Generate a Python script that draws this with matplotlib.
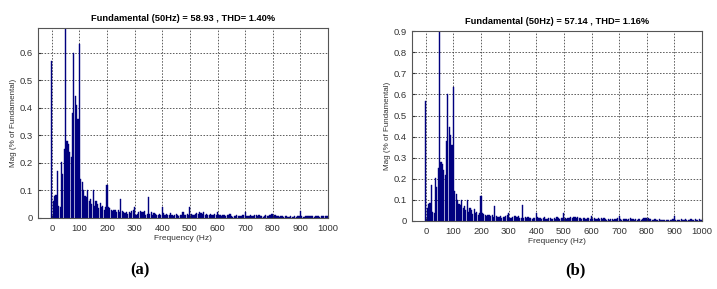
import numpy as np
import matplotlib
matplotlib.use('Agg')
import matplotlib.pyplot as plt

plt.rcParams['font.family'] = ['Liberation Sans Narrow', 'Liberation Sans', 'DejaVu Sans']

# harmonic spectrum, 5 Hz bins from 0 to 1000 Hz (% of fundamental)
freq = np.arange(0, 1001, 5)
mag = [
    0.57, 0.06, 0.08, 0.085, 0.17, 0.045, 0.04, 0.205, 0.16, 0.25,
    100.0, 0.28, 0.27, 0.24, 0.22, 0.38, 0.60, 0.445, 0.41, 0.36,
    0.633, 0.14, 0.13, 0.10, 0.08, 0.075, 0.10, 0.06, 0.07, 0.05,
    0.10, 0.045, 0.06, 0.05, 0.035, 0.055, 0.04, 0.045, 0.03, 0.04,
    0.12, 0.04, 0.035, 0.03, 0.025, 0.03, 0.028, 0.022, 0.03, 0.02,
    0.07, 0.025, 0.02, 0.018, 0.022, 0.015, 0.02, 0.018, 0.025, 0.03,
    0.04, 0.012, 0.015, 0.02, 0.025, 0.022, 0.02, 0.025, 0.012, 0.015,
    0.077, 0.015, 0.02, 0.012, 0.018, 0.015, 0.012, 0.01, 0.015, 0.012,
    0.04, 0.018, 0.012, 0.015, 0.01, 0.012, 0.018, 0.01, 0.008, 0.012,
    0.015, 0.01, 0.008, 0.012, 0.01, 0.02, 0.012, 0.01, 0.015, 0.012,
    0.04, 0.015, 0.01, 0.012, 0.015, 0.018, 0.015, 0.02, 0.018, 0.015,
    0.02, 0.012, 0.015, 0.01, 0.012, 0.015, 0.01, 0.012, 0.015, 0.01,
    0.022, 0.01, 0.012, 0.008, 0.01, 0.012, 0.008, 0.012, 0.01, 0.015,
    0.008, 0.005, 0.008, 0.006, 0.01, 0.008, 0.006, 0.008, 0.01, 0.012,
    0.022, 0.008, 0.006, 0.008, 0.01, 0.008, 0.006, 0.01, 0.012, 0.008,
    0.01, 0.006, 0.008, 0.005, 0.008, 0.01, 0.006, 0.008, 0.012, 0.015,
    0.014, 0.012, 0.01, 0.008, 0.006, 0.005, 0.008, 0.006, 0.005, 0.008,
    0.006, 0.005, 0.004, 0.006, 0.005, 0.004, 0.006, 0.005, 0.006, 0.008,
    0.025, 0.006, 0.005, 0.004, 0.006, 0.008, 0.007, 0.006, 0.008, 0.006,
    0.005, 0.007, 0.008, 0.006, 0.005, 0.008, 0.007, 0.006, 0.008, 0.007,
    0.006,
]

titles = ['Fundamental (50Hz) = 58.93 , THD= 1.40%',
          'Fundamental (50Hz) = 57.14 , THD= 1.16%']
ymax = [0.69, 0.9]
yticks = [np.arange(0, 0.61, 0.1), np.arange(0, 0.91, 0.1)]
captions = ['(a)', '(b)']
xticks = np.arange(0, 1001, 100)

fig = plt.figure(figsize=(7.17, 2.89), dpi=100)
positions = [[0.053, 0.2457, 0.4045, 0.657], [0.5746, 0.2353, 0.4045, 0.657]]

for i in range(2):
    ax = fig.add_axes(positions[i])
    ax.bar(freq, mag, width=4.2, color='#00007f', edgecolor='#00007f',
           linewidth=0.3, align='center', zorder=2)
    ax.set_xlim(-50, 1000)
    ax.set_ylim(0, ymax[i])
    ax.set_xticks(xticks)
    ax.set_yticks(yticks[i])
    ax.set_xticklabels([str(int(t)) for t in xticks])
    ax.set_yticklabels(['0'] + ['%.1f' % t for t in yticks[i][1:]])
    ax.grid(True, color='#333333', linestyle=(0, (2, 2)), linewidth=0.55, zorder=0)
    ax.tick_params(direction='in', length=2.5, labelsize=6.8, colors='#333333', pad=4)
    for s in ax.spines.values():
        s.set_color('#555555')
        s.set_linewidth(0.8)
    ax.set_title(titles[i], fontsize=6.7, fontweight='bold', pad=5)
    ax.set_xlabel('Frequency (Hz)', fontsize=6, color='#333333', labelpad=2)
    ax.set_ylabel('Mag (% of Fundamental)', fontsize=5.8, color='#333333', labelpad=1.5)

fig.text(0.195, 0.065, captions[0], fontsize=12, fontweight='bold',
         family='Liberation Serif', ha='center', va='center')
fig.text(0.802, 0.065, captions[1], fontsize=12, fontweight='bold',
         family='Liberation Serif', ha='center', va='center')

plt.savefig('out.png', dpi=100)
plt.close()
